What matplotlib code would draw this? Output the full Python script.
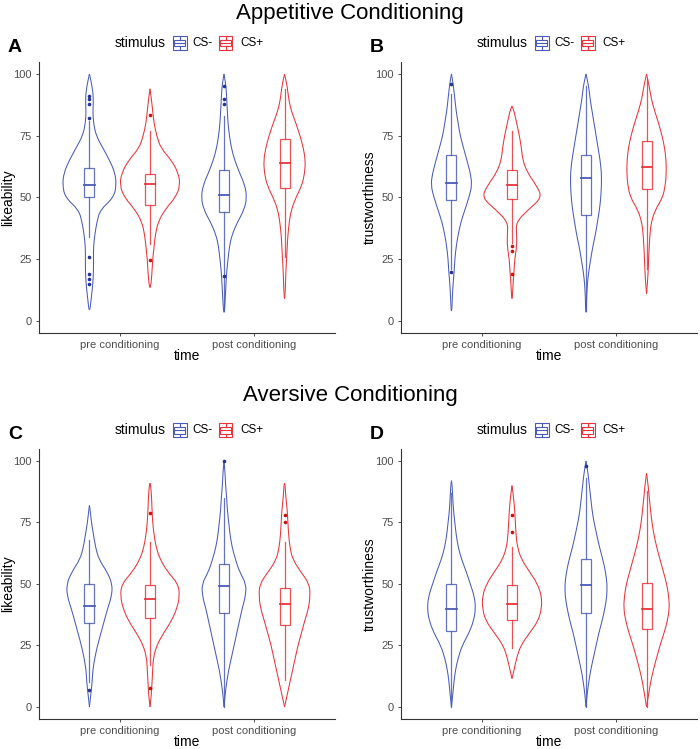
import numpy as np
import matplotlib
matplotlib.use("Agg")
import matplotlib.pyplot as plt
from matplotlib.patches import Rectangle, PathPatch
from matplotlib.path import Path
from matplotlib.lines import Line2D

plt.rcParams['font.family'] = ['Liberation Sans', 'DejaVu Sans']

W, H = 700, 749

times = ['pre conditioning', 'post conditioning']
stimuli = ['CS-', 'CS+']
line_col = {'CS-': '#4A5BB5', 'CS+': '#E8333A'}
dot_col = {'CS-': '#24338F', 'CS+': '#CC1010'}

# violin half-widths (x units) read at these rating levels
levels = [0, 5, 10, 15, 20, 25, 30, 35, 40, 45, 50, 55, 60, 65, 70, 75, 80, 85, 90, 95, 100]

# order in every panel: CS- pre, CS+ pre, CS- post, CS+ post
A_widths = [
    [0, 0.005, 0.015, 0.025, 0.03, 0.03, 0.03, 0.04, 0.055, 0.08, 0.18, 0.20, 0.19, 0.15, 0.10, 0.05, 0.03, 0.025, 0.03, 0.02, 0.005],
    [0, 0, 0, 0.008, 0.015, 0.02, 0.03, 0.04, 0.06, 0.11, 0.19, 0.225, 0.21, 0.16, 0.08, 0.05, 0.03, 0.02, 0.01, 0, 0],
    [0, 0.005, 0.01, 0.015, 0.02, 0.03, 0.04, 0.06, 0.10, 0.15, 0.17, 0.155, 0.115, 0.08, 0.055, 0.04, 0.03, 0.025, 0.02, 0.015, 0.005],
    [0, 0, 0.003, 0.007, 0.01, 0.015, 0.02, 0.025, 0.035, 0.05, 0.085, 0.13, 0.15, 0.155, 0.14, 0.115, 0.085, 0.05, 0.03, 0.02, 0.005],
]
A_ends = [(4.5, 100), (13.5, 94), (3.5, 100), (9, 100)]

B_widths = [
    [0, 0.003, 0.007, 0.012, 0.02, 0.025, 0.035, 0.05, 0.07, 0.10, 0.13, 0.153, 0.14, 0.115, 0.09, 0.065, 0.05, 0.035, 0.025, 0.015, 0.01],
    [0, 0, 0.003, 0.008, 0.015, 0.02, 0.035, 0.035, 0.03, 0.12, 0.225, 0.18, 0.115, 0.08, 0.07, 0.055, 0.035, 0.015, 0, 0, 0],
    [0, 0.003, 0.005, 0.01, 0.02, 0.035, 0.05, 0.07, 0.085, 0.10, 0.11, 0.115, 0.115, 0.105, 0.09, 0.075, 0.06, 0.045, 0.03, 0.02, 0.01],
    [0, 0, 0, 0.006, 0.012, 0.015, 0.02, 0.025, 0.035, 0.065, 0.12, 0.14, 0.147, 0.145, 0.135, 0.115, 0.09, 0.06, 0.035, 0.02, 0.01],
]
B_ends = [(4, 100), (9, 87), (3.5, 100), (11, 100)]

C_widths = [
    [0, 0.01, 0.02, 0.025, 0.04, 0.06, 0.085, 0.11, 0.135, 0.165, 0.17, 0.13, 0.07, 0.045, 0.03, 0.015, 0.005, 0, 0, 0, 0],
    [0, 0.01, 0.015, 0.02, 0.025, 0.05, 0.10, 0.16, 0.20, 0.22, 0.21, 0.13, 0.075, 0.045, 0.03, 0.02, 0.015, 0.012, 0.005, 0, 0],
    [0, 0.008, 0.02, 0.035, 0.055, 0.075, 0.095, 0.115, 0.135, 0.16, 0.165, 0.115, 0.085, 0.06, 0.045, 0.035, 0.025, 0.02, 0.012, 0.008, 0.004],
    [0, 0.02, 0.04, 0.06, 0.08, 0.10, 0.125, 0.15, 0.178, 0.19, 0.185, 0.12, 0.06, 0.04, 0.03, 0.025, 0.02, 0.01, 0.004, 0, 0],
]
C_ends = [(0, 82), (0, 91), (0, 100), (0, 91)]

D_widths = [
    [0, 0.01, 0.018, 0.03, 0.05, 0.08, 0.13, 0.165, 0.18, 0.17, 0.14, 0.11, 0.075, 0.05, 0.035, 0.025, 0.015, 0.01, 0.005, 0, 0],
    [0, 0, 0, 0.015, 0.035, 0.065, 0.13, 0.195, 0.22, 0.22, 0.19, 0.13, 0.07, 0.04, 0.03, 0.025, 0.02, 0.012, 0, 0, 0],
    [0, 0.008, 0.02, 0.035, 0.055, 0.075, 0.095, 0.12, 0.14, 0.155, 0.157, 0.145, 0.125, 0.10, 0.08, 0.06, 0.045, 0.035, 0.025, 0.015, 0.01],
    [0, 0.015, 0.03, 0.05, 0.075, 0.10, 0.13, 0.155, 0.17, 0.165, 0.15, 0.125, 0.10, 0.075, 0.055, 0.04, 0.03, 0.02, 0.012, 0.003, 0],
]
D_ends = [(0, 92), (11.5, 90), (0, 100), (0, 95)]

# box stats: [CS- pre, CS+ pre, CS- post, CS+ post]
A_q1 = [50, 47, 44, 54]
A_med = [55, 55.5, 51, 64]
A_q3 = [62, 59.5, 61, 73.5]
A_lo = [34, 31, 4, 26]
A_hi = [81, 77, 83, 94]
A_out = [[15, 17, 19, 26, 82, 88, 90, 91], [24.5, 83.5], [18, 88, 90, 95], []]

B_q1 = [49, 49.5, 43, 53.5]
B_med = [56, 55, 58, 62.5]
B_q3 = [67, 61, 67, 73]
B_lo = [21, 31.5, 4, 21]
B_hi = [92, 77, 95, 98]
B_out = [[20, 96], [19, 28.5, 30.5], [], []]

C_q1 = [34, 36, 38, 33.5]
C_med = [41, 44, 49, 42]
C_q3 = [50, 49.5, 58, 48.5]
C_lo = [10, 17, 0, 11]
C_hi = [68, 67, 85, 67]
C_out = [[7], [7.5, 79], [100], [75, 78]]

D_q1 = [31, 35.5, 38, 31.5]
D_med = [40, 42, 49.5, 40]
D_q3 = [50, 49.5, 60, 50.5]
D_lo = [0, 24, 0, 0]
D_hi = [87, 65, 93, 88]
D_out = [[], [71, 78], [98], []]

panels = [
    ('A', 'likeability', A_widths, A_ends, A_q1, A_med, A_q3, A_lo, A_hi, A_out),
    ('B', 'trustworthiness', B_widths, B_ends, B_q1, B_med, B_q3, B_lo, B_hi, B_out),
    ('C', 'likeability', C_widths, C_ends, C_q1, C_med, C_q3, C_lo, C_hi, C_out),
    ('D', 'trustworthiness', D_widths, D_ends, D_q1, D_med, D_q3, D_lo, D_hi, D_out),
]

# axes boxes in pixels: left, top, width, height
boxes = [(39, 61.6, 296, 271.7), (401, 61.6, 296, 271.7),
         (39, 448.7, 296, 270.5), (401, 448.7, 296, 270.5)]


def smooth_side(xs, ys):
    # quadratic bezier through midpoints, reading points used as control points
    pts = list(zip(xs, ys))
    verts = [pts[0]]
    codes = [Path.MOVETO]
    for i in range(1, len(pts) - 1):
        mid = ((pts[i][0] + pts[i + 1][0]) / 2, (pts[i][1] + pts[i + 1][1]) / 2)
        if i == 1:
            verts.append(((pts[0][0] + pts[1][0]) / 2, (pts[0][1] + pts[1][1]) / 2))
            codes.append(Path.LINETO)
        verts += [pts[i], mid]
        codes += [Path.CURVE3, Path.CURVE3]
    verts.append(pts[-1])
    codes.append(Path.LINETO)
    return Path(verts, codes)


fig = plt.figure(figsize=(W / 100, H / 100), dpi=100)
fig.patch.set_facecolor('white')

fig.text(350 / W, 1 - 14 / H, 'Appetitive Conditioning', ha='center', va='center', fontsize=16)
fig.text(350 / W, 1 - 396 / H, 'Aversive Conditioning', ha='center', va='center', fontsize=16)

dodge = 0.225
box_w = 0.075
axis_col = '#333333'
tick_col = '#4D4D4D'

for (letter, ylab, widths, ends, q1, med, q3, lo, hi, outs), (l, t, w, h) in zip(panels, boxes):
    ax = fig.add_axes([l / W, 1 - (t + h) / H, w / W, h / H])
    for i in range(4):
        g = i // 2
        s = stimuli[i % 2]
        col = line_col[s]
        xc = g + 1 + (-dodge if s == 'CS-' else dodge)
        y0, y1 = ends[i]
        ys = [y0]
        ws = [0]
        for lv, wd in zip(levels, widths[i]):
            if y0 < lv < y1:
                ys.append(lv)
                ws.append(wd)
        ys.append(y1)
        ws.append(0)
        ys = np.array(ys)
        ws = np.array(ws)
        for sign in (-1, 1):
            ax.add_patch(PathPatch(smooth_side(xc + sign * ws, ys), fill=False,
                                   ec=col, lw=0.75))
        # box and whiskers
        ax.plot([xc, xc], [lo[i], q1[i]], color=col, lw=0.9, alpha=0.85)
        ax.plot([xc, xc], [q3[i], hi[i]], color=col, lw=0.9, alpha=0.85)
        ax.add_patch(Rectangle((xc - box_w / 2, q1[i]), box_w, q3[i] - q1[i],
                               fill=False, ec=col, lw=0.9, alpha=0.85))
        ax.plot([xc - box_w / 2, xc + box_w / 2], [med[i], med[i]], color=col, lw=1.3)
        if outs[i]:
            ax.plot([xc] * len(outs[i]), outs[i], 'o', color=dot_col[s], ms=2.6, mec='none')

    ax.set_xlim(0.4, 2.6)
    ax.set_ylim(-5, 105)
    ax.set_xticks([1, 2])
    ax.set_xticklabels(times)
    ax.set_yticks([0, 25, 50, 75, 100])
    ax.tick_params(colors=axis_col, labelcolor=tick_col, labelsize=8, length=2.5, width=0.6, pad=2.5)
    for sp in ['top', 'right']:
        ax.spines[sp].set_visible(False)
    for sp in ['left', 'bottom']:
        ax.spines[sp].set_color(axis_col)
        ax.spines[sp].set_linewidth(0.8)
    ax.set_xlabel('time', fontsize=10)
    ax.set_ylabel(ylab, fontsize=10)
    ax.xaxis.set_label_coords(0.5, -16 / h)
    ax.yaxis.set_label_coords(-24 / w, 0.5)

    # panel letter
    fig.text((l - 31) / W, 1 - (t - 14.5) / H, letter, ha='left', va='center',
             fontsize=14, fontweight='bold')

    # legend: "stimulus" title + boxplot keys
    ly = t - 18.5
    fig.text((l + 76) / W, 1 - ly / H, 'stimulus', ha='left', va='center', fontsize=10)
    for kx, s, tx in [(l + 134, 'CS-', l + 153), (l + 180, 'CS+', l + 201)]:
        col = line_col[s]
        ks = 13.5
        x0, y0 = kx, ly + ks / 2
        def P(px, py):
            return (px / W, 1 - py / H)
        fig.add_artist(Rectangle(P(x0, y0), ks / W, ks / H, fill=False, ec=col, lw=0.8,
                                 transform=fig.transFigure))
        fig.add_artist(Rectangle(P(x0 + 0.1 * ks, y0 - 0.25 * ks), 0.8 * ks / W, 0.5 * ks / H,
                                 fill=False, ec=col, lw=0.8, transform=fig.transFigure))
        for a, b in [(0.0, 0.25), (0.75, 1.0)]:
            fig.add_artist(Line2D([(x0 + ks / 2) / W] * 2,
                                  [1 - (y0 - a * ks) / H, 1 - (y0 - b * ks) / H],
                                  color=col, lw=0.8, transform=fig.transFigure))
        fig.add_artist(Line2D([(x0 + 0.1 * ks) / W, (x0 + 0.9 * ks) / W],
                              [1 - ly / H] * 2, color=col, lw=0.8, transform=fig.transFigure))
        fig.text(tx / W, 1 - ly / H, s, ha='left', va='center', fontsize=8.5)

fig.savefig('out.png', dpi=100)
